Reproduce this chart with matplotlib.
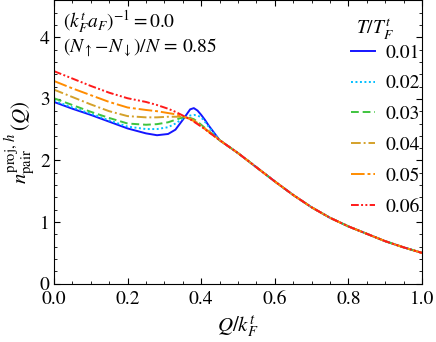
import numpy as np
import matplotlib
matplotlib.use("Agg")
import matplotlib.pyplot as plt

plt.rcParams['font.family'] = ['STIXGeneral', 'DejaVu Serif']
plt.rcParams['mathtext.fontset'] = 'stix'

# momentum grid (Q / k_F^t) where the curves differ
q_head = [0.0, 0.05, 0.10, 0.15, 0.20, 0.25, 0.28, 0.31, 0.33, 0.35, 0.37, 0.38, 0.39, 0.40, 0.41, 0.42, 0.43, 0.44]
# shared tail, all temperatures coincide here
q_tail = [0.45, 0.50, 0.55, 0.60, 0.65, 0.70, 0.75, 0.80, 0.85, 0.90, 0.95, 1.00]
n_tail = [2.33, 2.12, 1.89, 1.66, 1.44, 1.24, 1.07, 0.93, 0.81, 0.69, 0.59, 0.50]

temps = ["0.01", "0.02", "0.03", "0.04", "0.05", "0.06"]
n_001 = [2.95, 2.84, 2.74, 2.63, 2.52, 2.44, 2.41, 2.43, 2.50, 2.66, 2.83, 2.85, 2.81, 2.74, 2.66, 2.57, 2.49, 2.41]
n_002 = [2.97, 2.86, 2.76, 2.65, 2.55, 2.51, 2.51, 2.54, 2.60, 2.68, 2.73, 2.74, 2.73, 2.70, 2.63, 2.55, 2.47, 2.40]
n_003 = [3.01, 2.90, 2.79, 2.69, 2.60, 2.58, 2.59, 2.62, 2.66, 2.70, 2.69, 2.67, 2.63, 2.58, 2.53, 2.48, 2.43, 2.38]
n_004 = [3.15, 3.03, 2.91, 2.80, 2.72, 2.70, 2.70, 2.71, 2.71, 2.71, 2.68, 2.65, 2.61, 2.56, 2.52, 2.47, 2.42, 2.38]
n_005 = [3.29, 3.17, 3.06, 2.95, 2.86, 2.82, 2.80, 2.77, 2.75, 2.72, 2.67, 2.64, 2.60, 2.56, 2.51, 2.47, 2.42, 2.38]
n_006 = [3.45, 3.33, 3.21, 3.10, 3.01, 2.95, 2.90, 2.84, 2.79, 2.73, 2.67, 2.63, 2.59, 2.55, 2.51, 2.46, 2.42, 2.37]
series = [n_001, n_002, n_003, n_004, n_005, n_006]

colors = ['#1515ff', '#00bfff', '#3ec43e', '#d4a12a', '#ff8c00', '#ff1a1a']
styles = ['-', (0, (1, 1.3)), (0, (4, 2)), (0, (5, 1.5, 1, 1.5)),
          (0, (7, 1.5, 1.5, 1.5)), (0, (4, 1.2, 1, 1.2, 1, 1.2))]

fig = plt.figure(figsize=(4.36, 3.42), dpi=100)
ax = fig.add_axes([54/436, 1 - 283.7/342, 368/436, 283.4/342])

for lab, vals, c, ls in zip(temps, series, colors, styles):
    q = q_head + q_tail
    n = vals + n_tail
    ax.plot(q, n, color=c, ls=ls, lw=1.4, label=lab)

ax.set_xlim(0, 1)
ax.set_ylim(0, 4.6)
ax.set_xticks([0.0, 0.2, 0.4, 0.6, 0.8, 1.0])
ax.set_xticklabels(['0.0', '0.2', '0.4', '0.6', '0.8', '1.0'])
ax.set_yticks([0, 1, 2, 3, 4])
ax.set_xticks(np.arange(0, 1.001, 0.05), minor=True)
ax.set_yticks(np.arange(0, 4.6, 0.2), minor=True)
ax.tick_params(which='both', direction='in', top=True, right=True, labelsize=14)
ax.tick_params(which='major', length=4, width=0.8)
ax.tick_params(which='minor', length=2, width=0.6)
ax.tick_params(axis='x', pad=5)
ax.tick_params(axis='y', pad=3)

ax.set_xlabel(r'$Q/k_F^t$', fontsize=15, labelpad=4)
ax.set_ylabel(r'$n_{\rm pair}^{{\rm proj},\,h}\,(Q)$', fontsize=15, labelpad=2)

ax.text(0.025, 0.923, r'$(k_F^t a_F)^{-1} = 0.0$', transform=ax.transAxes,
        fontsize=14, va='center', ha='left')
ax.text(0.025, 0.832, r'$(N_{\uparrow}\!-\!N_{\downarrow})/N\, =\, 0.85$', transform=ax.transAxes,
        fontsize=14, va='center', ha='left')

# legend title drawn on its own so the row spacing can match
ax.text(0.872, 0.899, r'$T/T_F^t$', transform=ax.transAxes,
        fontsize=14, va='center', ha='center')
leg = ax.legend(loc='upper left', frameon=False, fontsize=14,
                handlelength=1.25, labelspacing=0.68, handletextpad=0.5,
                borderpad=0, borderaxespad=0,
                bbox_to_anchor=(0.807, 0.846))

fig.savefig('out.png', dpi=100)
